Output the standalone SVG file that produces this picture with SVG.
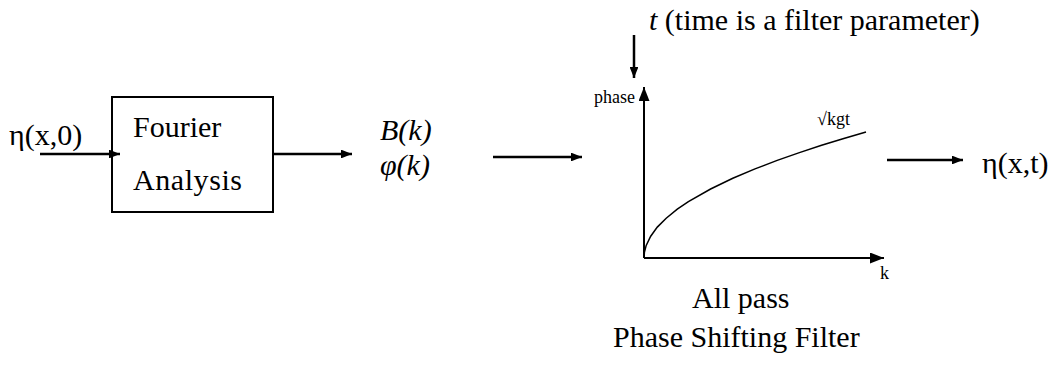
<svg xmlns="http://www.w3.org/2000/svg" width="1063" height="374" viewBox="0 0 1063 374">
<style>
  .big { font-size: 30px; }
  .small { font-size: 18px; }
  .it { font-style: italic; }
  .ln { stroke: #000; stroke-width: 2.5; fill: none; }
  .ax { stroke: #000; stroke-width: 2; fill: none; }
</style>
<defs>
  <marker id="ah" viewBox="0 0 10 8" markerWidth="11" markerHeight="8.8" refX="10" refY="4" orient="auto" markerUnits="userSpaceOnUse">
    <path d="M0,0 L10,4 L0,8 z" fill="#000"/>
  </marker>
  <marker id="axh" viewBox="0 0 14 11" markerWidth="15" markerHeight="11" refX="14" refY="5.5" orient="auto" markerUnits="userSpaceOnUse">
    <path d="M0,0 L14,5.5 L0,11 z" fill="#000"/>
  </marker>
</defs>
<rect width="1063" height="374" fill="#fff"/>
<g font-family="'Liberation Serif', 'Times New Roman', Times, serif" fill="#000">
<g id="input-label"><text class="big" x="9" y="145">η(x,0)</text></g>

<g id="fourier-box">
  <rect x="112" y="97" width="161" height="115" fill="#fff" stroke="#000" stroke-width="2"/>
  <text class="big" x="133" y="137">Fourier</text>
  <text class="big" x="133" y="190" textLength="109">Analysis</text>
</g>

<g id="spectrum-label">
  <text class="big it" x="380" y="140">B(k)</text>
  <text class="big it" x="380" y="175">φ(k)</text>
</g>

<g id="param-label">
  <text class="big" x="649" y="30"><tspan class="it">t</tspan> (time is a filter parameter)</text>
</g>

<g id="filter-plot">
  <line class="ax" x1="644" y1="258" x2="644" y2="87" marker-end="url(#axh)"/>
  <line class="ax" x1="644" y1="258" x2="884" y2="258" marker-end="url(#axh)"/>
  <polyline fill="none" stroke="#000" stroke-width="1.5" points="644,258 644.4,252.4 646.2,245.4 650.7,236.2 657.3,227.1 666.2,218.2 677.3,209.2 688.4,201.7 710.6,189 732.8,178.3 755,168.9 777.2,160.4 799.4,152.6 821.6,145.3 843.8,138.5 866,132"/>
  <text class="small" x="594" y="103">phase</text>
  <text class="small" x="817" y="125">√kgt</text>
  <text class="small" x="880" y="279">k</text>
  <text class="big" x="692" y="308">All pass</text>
  <text class="big" x="613" y="347">Phase Shifting Filter</text>
</g>

<g id="output-label"><text class="big" x="982" y="173">η(x,t)</text></g>
</g>
<g id="connectors">
  <line class="ln" x1="40" y1="154" x2="120" y2="154" marker-end="url(#ah)"/>
  <line class="ln" x1="273" y1="154" x2="352" y2="154" marker-end="url(#ah)"/>
  <line class="ln" x1="493" y1="157" x2="582" y2="157" marker-end="url(#ah)"/>
  <line class="ln" x1="634" y1="35" x2="634" y2="78" marker-end="url(#ah)"/>
  <line class="ln" x1="887" y1="160" x2="963" y2="160" marker-end="url(#ah)"/>
</g>
</svg>
